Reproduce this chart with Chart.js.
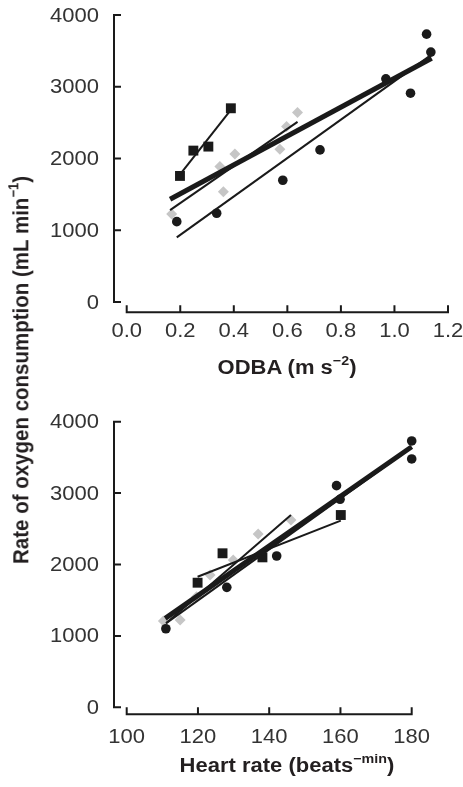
<!DOCTYPE html>
<html>
<head>
<meta charset="utf-8">
<script src="https://cdn.jsdelivr.net/npm/chart.js@4.4.0/dist/chart.umd.min.js"></script>
<style>
  html, body { margin: 0; padding: 0; background: #fff; }
  #wrap { position: relative; width: 463px; height: 787px; overflow: hidden; font-family: "Liberation Sans", Arial, sans-serif; }
  canvas { position: absolute; left: 0; }
  #chartOdba { top: 0; }
  #chartHr { top: 395px; }
  .title { position: absolute; font-weight: bold; font-size: 20px; color: #231f20; white-space: nowrap; line-height: 1; }
  .title sup { font-size: 13px; vertical-align: 0; position: relative; top: -9px; }
  #xTitleOdba { left: 287px; top: 367px; transform: translate(-50%, -50%) scaleX(1.1); }
  #xTitleHr { left: 287px; top: 765px; transform: translate(-50%, -50%) scaleX(1.1); }
  #yTitle { left: 21px; top: 370px; font-size: 20.5px; transform: translate(-50%, -50%) rotate(-90deg) scaleY(1.1); }
</style>
</head>
<body>
<div id="wrap">
  <canvas id="chartOdba" width="463" height="395"></canvas>
  <canvas id="chartHr" width="463" height="392"></canvas>
  <div class="title" id="yTitle">Rate of oxygen consumption (mL min<sup>−1</sup>)</div>
  <div class="title" id="xTitleOdba">ODBA (m s<sup>−2</sup>)</div>
  <div class="title" id="xTitleHr">Heart rate (beats<sup>−min</sup>)</div>
</div>
<script>
// tick labels
const vo2Ticks = [0, 1000, 2000, 3000, 4000];
const odbaTicks = [0, 0.2, 0.4, 0.6, 0.8, 1.0, 1.2];
const hrTicks = [100, 120, 140, 160, 180];

// top panel: ODBA vs VO2 (three animals: circle, square, grey diamond)
const odbaCircleX = [0.187, 0.336, 0.583, 0.722, 0.968, 1.060, 1.120, 1.136];
const odbaCircleY = [1120, 1237, 1697, 2120, 3110, 2910, 3733, 3483];
const odbaSquareX = [0.199, 0.249, 0.305, 0.389];
const odbaSquareY = [1757, 2110, 2166, 2700];
const odbaDiamondX = [0.168, 0.348, 0.361, 0.404, 0.572, 0.597, 0.638];
const odbaDiamondY = [1227, 1887, 1538, 2064, 2130, 2445, 2640];

// fitted lines, end points
const odbaFitAllX = [0.162, 1.139];
const odbaFitAllY = [1432, 3398];
const odbaFitCircleX = [0.187, 1.136];
const odbaFitCircleY = [900, 3440];
const odbaFitDiamondX = [0.162, 0.638];
const odbaFitDiamondY = [1280, 2510];
const odbaFitSquareX = [0.203, 0.389];
const odbaFitSquareY = [1795, 2678];

// bottom panel: heart rate vs VO2
const hrCircleX = [111.0, 128.1, 142.1, 158.9, 159.9, 180.0, 180.0];
const hrCircleY = [1100, 1680, 2119, 3104, 2913, 3730, 3478];
const hrSquareX = [119.9, 126.9, 138.1, 160.1];
const hrSquareY = [1745, 2157, 2100, 2693];
const hrDiamondX = [110.3, 115.0, 119.6, 123.4, 129.9, 136.9, 146.1];
const hrDiamondY = [1208, 1223, 1550, 1853, 2063, 2427, 2623];

const hrFitAllX = [110.8, 180];
const hrFitAllY = [1246, 3650];
const hrFitCircleX = [111, 180];
const hrFitCircleY = [1175, 3640];
const hrFitSquareX = [119.9, 160.1];
const hrFitSquareY = [1829, 2614];
const hrFitDiamondX = [111.2, 146.1];
const hrFitDiamondY = [1185, 2693];

const INK = '#1a1a1a';
const GREY = '#c6c6c6';

const pts = (xs, ys) => xs.map((x, i) => ({ x, y: ys[i] }));

function fitLine(xs, ys, width) {
  return { data: pts(xs, ys), showLine: true, borderColor: INK, borderWidth: width,
    pointRadius: 0, fill: false, clip: false };
}
function markers(xs, ys, style, r, color) {
  return { data: pts(xs, ys), showLine: false, pointStyle: style, pointRadius: r,
    backgroundColor: color, borderColor: color, borderWidth: 0, clip: false };
}

// axes drawn detached from the plot area with inward ticks, like the figure
const detachedAxes = {
  id: 'detachedAxes',
  afterDraw(chart, args, o) {
    const { ctx, chartArea } = chart;
    const xs = chart.scales.x, ys = chart.scales.y;
    const ax = chartArea.left - o.yGap;
    const ay = chartArea.bottom + o.xGap;
    const yTop = ys.getPixelForValue(o.yTicks[o.yTicks.length - 1]);
    const yBot = ys.getPixelForValue(o.yTicks[0]);
    const xL = xs.getPixelForValue(o.xTicks[0]);
    const xR = xs.getPixelForValue(o.xTicks[o.xTicks.length - 1]);
    ctx.save();
    ctx.strokeStyle = INK;
    ctx.lineWidth = 2;
    ctx.beginPath();
    ctx.moveTo(ax, yTop - 1); ctx.lineTo(ax, yBot + 1);
    o.yTicks.forEach(v => { const p = ys.getPixelForValue(v); ctx.moveTo(ax, p); ctx.lineTo(ax + 7, p); });
    ctx.moveTo(xL - 1, ay); ctx.lineTo(xR + 1, ay);
    o.xTicks.forEach(v => { const p = xs.getPixelForValue(v); ctx.moveTo(p, ay); ctx.lineTo(p, ay - 7); });
    ctx.stroke();

    ctx.fillStyle = '#333';
    ctx.font = '20px "Liberation Sans", Arial, sans-serif';
    ctx.textBaseline = 'middle';
    ctx.textAlign = 'right';
    o.yTicks.forEach(v => {
      ctx.save();
      ctx.translate(ax - 15, ys.getPixelForValue(v) + 1);
      ctx.scale(1.1, 1);
      ctx.fillText(String(v), 0, 0);
      ctx.restore();
    });
    ctx.textAlign = 'center';
    o.xTicks.forEach(v => {
      ctx.save();
      ctx.translate(xs.getPixelForValue(v), ay + o.labelOffset);
      ctx.scale(1.1, 1);
      ctx.fillText(o.fmt(v), 0, 0);
      ctx.restore();
    });
    ctx.restore();
  }
};

function makeChart(canvas, datasets, xMin, xMax, padding, axes) {
  return new Chart(canvas, {
    type: 'scatter',
    data: { datasets },
    options: {
      responsive: false,
      animation: false,
      events: [],
      layout: { padding },
      plugins: { legend: { display: false }, tooltip: { enabled: false }, detachedAxes: axes },
      scales: {
        x: { type: 'linear', min: xMin, max: xMax, display: false },
        y: { type: 'linear', min: 0, max: 4000, display: false }
      }
    },
    plugins: [detachedAxes]
  });
}

makeChart(document.getElementById('chartOdba'), [
  fitLine(odbaFitAllX, odbaFitAllY, 5),
  fitLine(odbaFitCircleX, odbaFitCircleY, 2),
  fitLine(odbaFitDiamondX, odbaFitDiamondY, 2),
  fitLine(odbaFitSquareX, odbaFitSquareY, 2),
  markers(odbaCircleX, odbaCircleY, 'circle', 4.8, INK),
  markers(odbaSquareX, odbaSquareY, 'rect', 7, INK),
  markers(odbaDiamondX, odbaDiamondY, 'rectRot', 5.5, GREY)
], 0, 1.2, { left: 126.7, right: 15, top: 15, bottom: 93 },
  { yTicks: vo2Ticks, xTicks: odbaTicks, yGap: 12.7, xGap: 10.3, labelOffset: 19.5, fmt: v => v.toFixed(1) });

makeChart(document.getElementById('chartHr'), [
  fitLine(hrFitAllX, hrFitAllY, 5),
  fitLine(hrFitCircleX, hrFitCircleY, 2),
  fitLine(hrFitDiamondX, hrFitDiamondY, 2),
  fitLine(hrFitSquareX, hrFitSquareY, 2),
  markers(hrCircleX, hrCircleY, 'circle', 4.8, INK),
  markers(hrSquareX, hrSquareY, 'rect', 7, INK),
  markers(hrDiamondX, hrDiamondY, 'rectRot', 5.5, GREY)
], 100, 180, { left: 126.7, right: 51.3, top: 26.7, bottom: 79.7 },
  { yTicks: vo2Ticks, xTicks: hrTicks, yGap: 12.7, xGap: 7, labelOffset: 23, fmt: v => String(v) });
</script>
</body>
</html>
